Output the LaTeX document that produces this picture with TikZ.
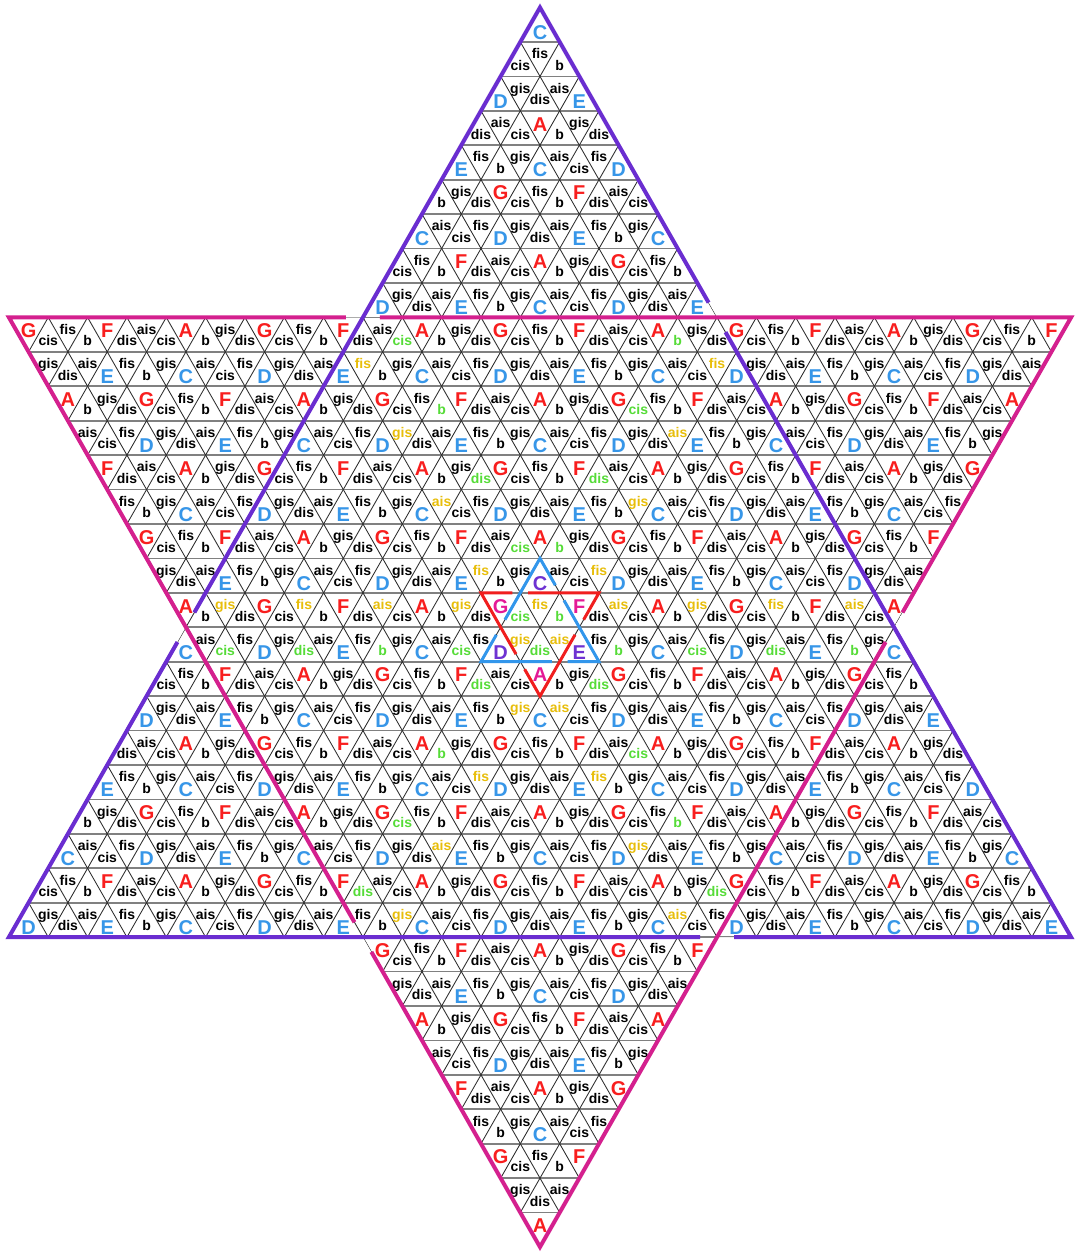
\documentclass[tikz,border=0pt]{standalone}
\usepackage{fontspec}
\setmainfont{Liberation Sans}
\definecolor{purp}{RGB}{106,45,208}
\definecolor{mag}{RGB}{212,32,142}
\definecolor{nblue}{RGB}{55,150,232}
\definecolor{nred}{RGB}{248,30,30}
\definecolor{nviolet}{RGB}{110,50,210}
\definecolor{nmag}{RGB}{228,25,150}
\definecolor{ngreen}{RGB}{85,220,55}
\definecolor{nyellow}{RGB}{232,190,10}
\definecolor{sblue}{RGB}{50,150,235}
\definecolor{sred}{RGB}{240,30,30}
\definecolor{hgray}{RGB}{128,128,128}
\definecolor{dgray}{RGB}{45,45,45}
\newcommand\mynotecode[1]{\ifcase#1 0\or 10\or 1\or 6\or 2\or 8\or 3\or 10\or 4\or 6\or 11\or 8\or 6\or 11\or 5\or 3\or 10\or 1\or 9\or 11\or 8\or 3\or 7\or 1\fi}
\newcommand\mynotename[1]{\ifcase#1 C\or cis\or D\or dis\or E\or F\or fis\or G\or gis\or A\or ais\or b\fi}
\begin{document}
\begin{tikzpicture}[x=19.67pt,y=-34.43pt,
  hline/.style={draw=hgray,line width=1.7pt},
  dline/.style={draw=dgray,line width=0.85pt},
  bignote/.style={font=\bfseries\fontsize{20}{20}\selectfont,anchor=base,inner sep=0pt,yshift=-8.8pt},
  smallnote/.style={font=\bfseries\fontsize{14}{14}\selectfont,anchor=base,inner sep=0pt,yshift=-5.3pt},
  purpline/.style={draw=purp,line width=4pt},
  magline/.style={draw=mag,line width=4pt},
  bluesline/.style={draw=sblue,line width=3pt},
  redsline/.style={draw=sred,line width=3pt}]
\useasboundingbox (-27.453,-0.2178) rectangle (27.199,36.204);
\fill[white] (-27.453,-0.2178) rectangle (27.199,36.204);
% lattice
\begin{scope}
\clip (0,0) -- (-27,27) -- (27,27) -- cycle (-27,9) -- (0,36) -- (27,9) -- cycle;
\foreach \r in {1,...,35} \draw[hline] (-28,\r) -- (28,\r);
\foreach \c in {-64,-62,...,64} {
  \draw[dline] (\c-1,-1) -- (\c+38,38);
  \draw[dline] (\c+1,-1) -- (\c-38,38);
}
\end{scope}
% labels
\foreach \r in {0,...,35}{
  \pgfmathtruncatemacro\K{\r<9 ? \r : (\r>26 ? 35-\r : max(\r,35-\r))}
  \pgfmathtruncatemacro\Kn{-\K}
  \foreach \k in {\Kn,...,\K}{
    \pgfmathtruncatemacro\up{mod(\r+\k+100,2)==0}
    \pgfmathtruncatemacro\idx{12*mod(\r,2)+mod(\k+6*(mod(\r,4)>1)+120,12)}
    \pgfmathtruncatemacro\d{abs(\k)}
    \pgfmathtruncatemacro\odd{mod(\r,2)}
    \pgfmathtruncatemacro\col{(((\r+\d)==16)&&(\odd==1)&&(\r>8)) || (((\r+\d)==19)&&(\odd==0)&&(\r>9)&&(\r<19)) || (((\r-\d)==19)&&(\odd==0)&&(\r>17)&&(\r<27)) || (((\r-\d)==16)&&(\odd==1)&&(\r>16)&&(\r<26)) || (((\r==17)||(\r==18))&&(mod(\k+100,4)==0)&&(\d<17))}
    \pgfmathtruncatemacro\sp{((\r==16)&&(\k==0)) || ((\r==19)&&(\k==0)) || (((\r==17)||(\r==18))&&(\d==2))}
    \pgfmathsetmacro\yy{\r+(\up==1 ? 0.6667 : 0.3333)}
    \edef\nc{\mynotecode{\idx}}
    \def\ty{smallnote}\def\cl{black}
    \ifnum\nc<5
      \ifodd\nc
        \ifnum\col=1 \def\cl{ngreen}\fi
      \else
        \def\ty{bignote}\def\cl{nblue}\ifnum\sp=1 \def\cl{nviolet}\fi
      \fi
    \else
      \ifnum\nc=11
        \ifnum\col=1 \def\cl{ngreen}\fi
      \else
        \ifodd\nc
          \def\ty{bignote}\def\cl{nred}\ifnum\sp=1 \def\cl{nmag}\fi
        \else
          \ifnum\col=1 \def\cl{nyellow}\fi
        \fi
      \fi
    \fi
    \node[\ty,text=\cl] (n\r x\k) at (\k,\yy) {\mynotename{\nc}};
  }
}
% big star (interlaced)
\draw[purpline] (8.57,8.57) -- (0,0) -- (-17.57,17.57);
\draw[purpline] (-18.43,18.43) -- (-27,27) -- (8.136,27);
\draw[purpline] (9.864,27) -- (27,27) -- (9.43,9.43);
\draw[magline] (-9.864,9) -- (-27,9) -- (-9.43,26.57);
\draw[magline] (-8.57,27.43) -- (0,36) -- (17.57,18.43);
\draw[magline] (18.43,17.57) -- (27,9) -- (-8.136,9);
% small star (interlaced)
\draw[bluesline] (0.78,16.78) -- (0,16) -- (-1.78,17.78);
\draw[bluesline] (-2.22,18.22) -- (-3,19) -- (0.6,19);
\draw[bluesline] (1.4,19) -- (3,19) -- (1.22,17.22);
\draw[redsline] (-1.4,17) -- (-3,17) -- (-1.22,18.78);
\draw[redsline] (-0.78,19.22) -- (0,20) -- (1.78,18.22);
\draw[redsline] (2.22,17.78) -- (3,17) -- (-0.6,17);
\end{tikzpicture}
\end{document}
